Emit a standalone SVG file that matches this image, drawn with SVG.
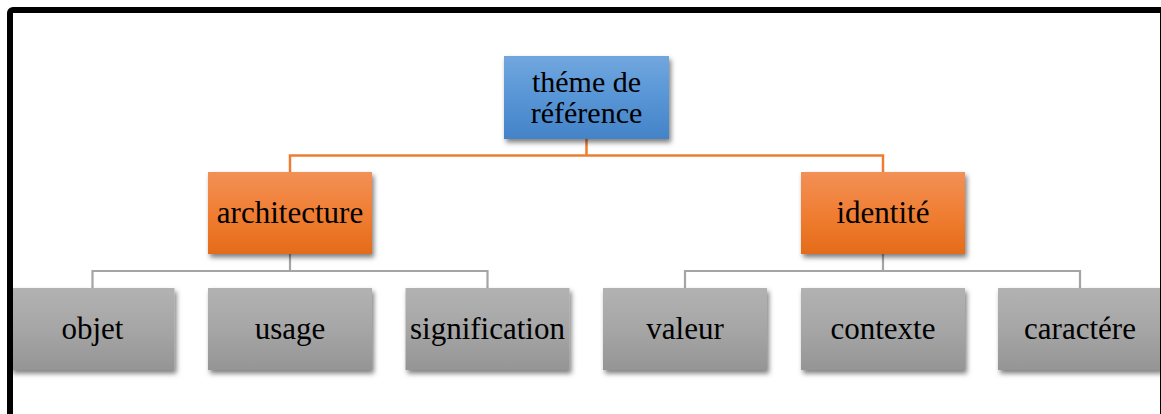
<svg xmlns="http://www.w3.org/2000/svg" width="1161" height="414" viewBox="0 0 1161 414">
<style>
.t{font-family:"Liberation Serif","Times New Roman",serif;font-size:31px;fill:#000;text-anchor:middle}
.r{font-size:30px}
.co{fill:none;stroke:#ED7D31;stroke-width:2.5}
.cg{fill:none;stroke:#A5A5A5;stroke-width:2.2}
</style>
<defs>
<linearGradient id="gb" x1="0" y1="0" x2="0" y2="1"><stop offset="0" stop-color="#72A7DE"/><stop offset="0.5" stop-color="#5795D6"/><stop offset="1" stop-color="#4483C8"/></linearGradient>
<linearGradient id="go" x1="0" y1="0" x2="0" y2="1"><stop offset="0" stop-color="#F29057"/><stop offset="0.5" stop-color="#F07E33"/><stop offset="1" stop-color="#E46B19"/></linearGradient>
<linearGradient id="gg" x1="0" y1="0" x2="0" y2="1"><stop offset="0" stop-color="#B2B2B2"/><stop offset="0.5" stop-color="#A6A6A6"/><stop offset="1" stop-color="#959595"/></linearGradient>
<filter id="sh" x="-10%" y="-10%" width="125%" height="135%"><feDropShadow dx="2" dy="3.5" stdDeviation="2.5" flood-color="#000" flood-opacity="0.5"/></filter>
</defs>
<rect width="1161" height="414" fill="#fff"/>
<g id="connectors">
<path class="co" d="M586.5 139V155.5M290 172V155.5H883V172"/>
<path class="cg" d="M290 254V271M92.5 288V271H487.5V288"/>
<path class="cg" d="M883 254V271M685 288V271H1080V288"/>
</g>
<g id="root"><rect x="504" y="56" width="165" height="83" fill="url(#gb)" filter="url(#sh)"/><text class="t r" x="586.5" y="91.5">théme de</text><text class="t r" x="586.5" y="123">référence</text></g>
<g id="architecture"><rect x="208" y="172" width="164" height="82" fill="url(#go)" filter="url(#sh)"/><text class="t" x="290" y="223">architecture</text></g>
<g id="identite"><rect x="801" y="172" width="164" height="82" fill="url(#go)" filter="url(#sh)"/><text class="t" x="883" y="223">identité</text></g>
<g id="objet"><rect x="10.5" y="288" width="164" height="82" fill="url(#gg)" filter="url(#sh)"/><text class="t" x="92.5" y="339">objet</text></g>
<g id="usage"><rect x="208" y="288" width="164" height="82" fill="url(#gg)" filter="url(#sh)"/><text class="t" x="290" y="339">usage</text></g>
<g id="signification"><rect x="405.5" y="288" width="164" height="82" fill="url(#gg)" filter="url(#sh)"/><text class="t" x="487.5" y="339">signification</text></g>
<g id="valeur"><rect x="603" y="288" width="164" height="82" fill="url(#gg)" filter="url(#sh)"/><text class="t" x="685" y="339">valeur</text></g>
<g id="contexte"><rect x="801" y="288" width="164" height="82" fill="url(#gg)" filter="url(#sh)"/><text class="t" x="883" y="339">contexte</text></g>
<g id="caractere"><rect x="998" y="288" width="164" height="82" fill="url(#gg)" filter="url(#sh)"/><text class="t" x="1080" y="339">caractére</text></g>
<rect x="10" y="10" width="1153" height="430" rx="3" fill="none" stroke="#000" stroke-width="6"/>
</svg>
